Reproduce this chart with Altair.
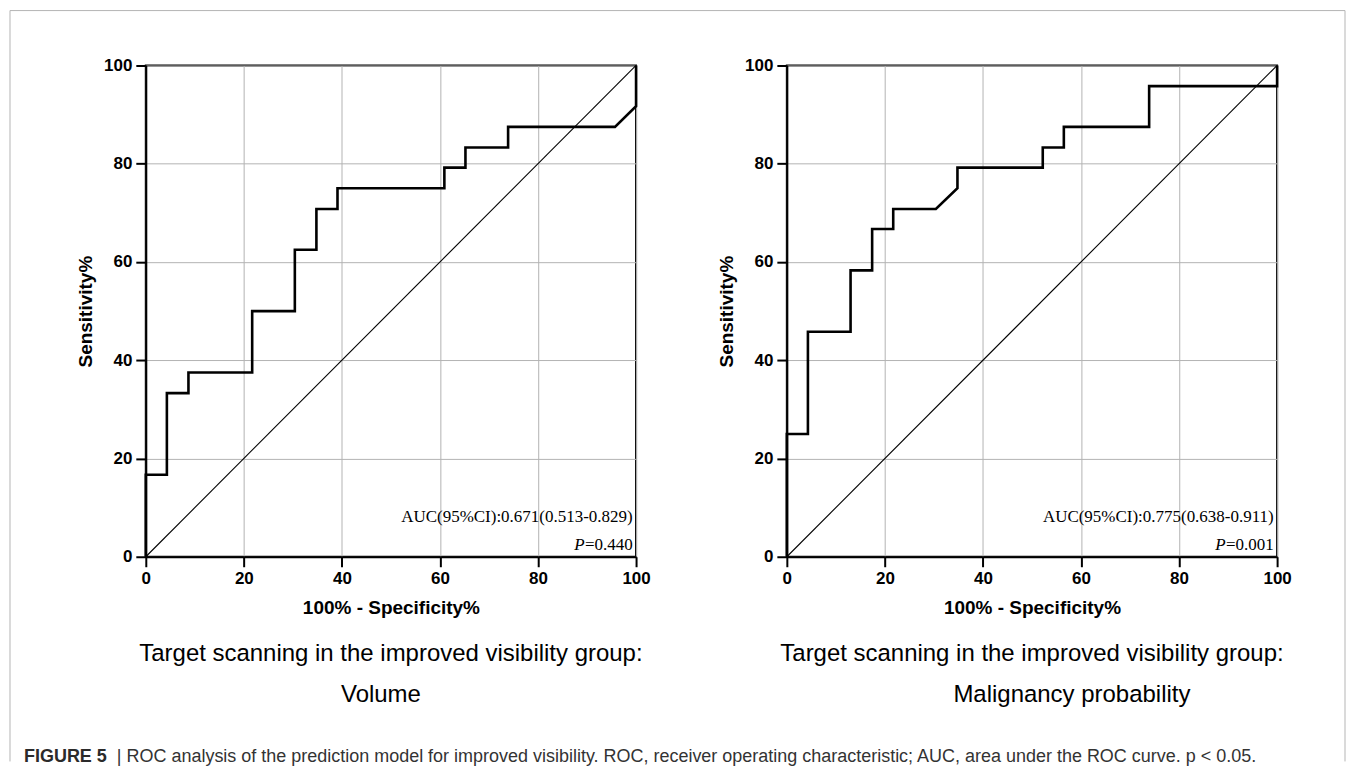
import altair as alt
import pandas as pd

# ---- data ----
vol_fpr = [0, 0, 4.3, 4.3, 8.7, 8.7, 21.7, 21.7, 30.4, 30.4, 34.8, 34.8, 39.1, 39.1,
           60.9, 60.9, 65.2, 65.2, 73.9, 73.9, 95.7, 100, 100]
vol_tpr = [0, 16.7, 16.7, 33.3, 33.3, 37.5, 37.5, 50, 50, 62.5, 62.5, 70.8, 70.8, 75,
           75, 79.2, 79.2, 83.3, 83.3, 87.5, 87.5, 91.7, 100]

mal_fpr = [0, 0, 4.3, 4.3, 13.0, 13.0, 17.4, 17.4, 21.7, 21.7, 30.4, 34.8, 34.8,
           52.2, 52.2, 56.5, 56.5, 73.9, 73.9, 100, 100]
mal_tpr = [0, 25, 25, 45.8, 45.8, 58.3, 58.3, 66.7, 66.7, 70.8, 70.8, 75, 79.2,
           79.2, 83.3, 83.3, 87.5, 87.5, 95.8, 95.8, 100]

ref_x = [0, 100]
ref_y = [0, 100]
ticks = [0, 20, 40, 60, 80, 100]

subtitle = "Target scanning in the improved visibility group:"
names = ["Volume", "Malignancy probability"]
auc_text = ["AUC(95%CI):0.671(0.513-0.829)", "AUC(95%CI):0.775(0.638-0.911)"]
p_text = ["=0.440", "=0.001"]
caption_bold = "FIGURE 5"
caption_rest = ("| ROC analysis of the prediction model for improved visibility. ROC, "
                "receiver operating characteristic; AUC, area under the ROC curve. p < 0.05.")

W, H = 491, 492
SANS = "Liberation Sans"
SERIF = "Liberation Serif"


def panel(fpr, tpr, name, name_dx, auc, p, first):
    xs = alt.Scale(domain=[0, 100], nice=False)
    ys = alt.Scale(domain=[0, 100], nice=False)
    xax = alt.Axis(values=ticks, title="100% - Specificity%", titlePadding=12)
    yax = alt.Axis(values=ticks, title="Sensitivity%", titlePadding=8)

    df = pd.DataFrame({"fpr": fpr, "tpr": tpr, "i": list(range(len(fpr)))})
    diag = alt.Chart(pd.DataFrame({"fpr": ref_x, "tpr": ref_y})).mark_line(
        color="black", strokeWidth=1.1
    ).encode(x=alt.X("fpr:Q", scale=xs, axis=xax), y=alt.Y("tpr:Q", scale=ys, axis=yax))
    roc = alt.Chart(df).mark_line(color="black", strokeWidth=2.6).encode(
        x=alt.X("fpr:Q", scale=xs, axis=xax),
        y=alt.Y("tpr:Q", scale=ys, axis=yax),
        order="i:Q",
    )

    ann = pd.DataFrame({"x": [99.3, 99.3], "y": [8.1, 2.4], "t": [auc, p]})
    t_auc = alt.Chart(ann).mark_text(
        align="right", baseline="middle", font=SERIF, fontSize=17, color="black"
    ).encode(x="x:Q", y="y:Q", text="t:N")
    t_p = alt.Chart(ann.iloc[[1]].assign(t="P")).mark_text(
        align="right", baseline="middle", font=SERIF, fontSize=17, fontStyle="italic",
        color="black", dx=-48
    ).encode(x="x:Q", y="y:Q", text="t:N")

    one = pd.DataFrame({"a": [0]})
    sub1 = alt.Chart(one).mark_text(
        align="center", baseline="middle", font=SANS, fontSize=24, color="black"
    ).encode(x=alt.value(W / 2), y=alt.value(589), text=alt.value(subtitle))
    sub2 = alt.Chart(one).mark_text(
        align="center", baseline="middle", font=SANS, fontSize=24, color="black"
    ).encode(x=alt.value(W / 2 + name_dx), y=alt.value(630), text=alt.value(name))

    layers = [diag, roc, t_auc, t_p, sub1, sub2]

    if first:
        bc = "#b5b5b5"
        left = alt.Chart(one).mark_rule(color=bc, strokeWidth=1).encode(
            x=alt.value(-136), y=alt.value(-55), y2=alt.value(697))
        top = alt.Chart(one).mark_rule(color=bc, strokeWidth=1).encode(
            x=alt.value(-136), x2=alt.value(1201), y=alt.value(-55))
        right = alt.Chart(one).mark_rule(color=bc, strokeWidth=1).encode(
            x=alt.value(1201), y=alt.value(-55), y2=alt.value(697))
        cap1 = alt.Chart(one).mark_text(
            align="left", baseline="middle", font=SANS, fontSize=18,
            fontWeight="bold", color="#2b2b2b"
        ).encode(x=alt.value(-122), y=alt.value(693), text=alt.value(caption_bold))
        cap2 = alt.Chart(one).mark_text(
            align="left", baseline="middle", font=SANS, fontSize=18, color="#333333"
        ).encode(x=alt.value(-29), y=alt.value(693), text=alt.value(caption_rest))
        layers += [left, top, right, cap1, cap2]

    return alt.layer(*layers).properties(width=W, height=H)


chart = alt.hconcat(
    panel(vol_fpr, vol_tpr, names[0], -10, auc_text[0], p_text[0], True),
    panel(mal_fpr, mal_tpr, names[1], 40, auc_text[1], p_text[1], False),
    spacing=151,
    bounds="flush",
).properties(
    padding=0, background="white"
).configure_view(
    stroke="black", strokeWidth=2
).configure_axis(
    domainColor="black", domainWidth=2, tickColor="black", tickWidth=2, tickSize=10,
    labelFont=SANS, labelFontWeight="bold", labelFontSize=17, labelColor="black",
    labelPadding=4, labelFlush=False, labelOverlap=False,
    titleFont=SANS, titleFontWeight="bold", titleFontSize=19, titleColor="black",
    gridColor="#b3b3b3", gridWidth=1,
)

chart.save("out.html", embed_options={"renderer": "svg", "actions": False})
